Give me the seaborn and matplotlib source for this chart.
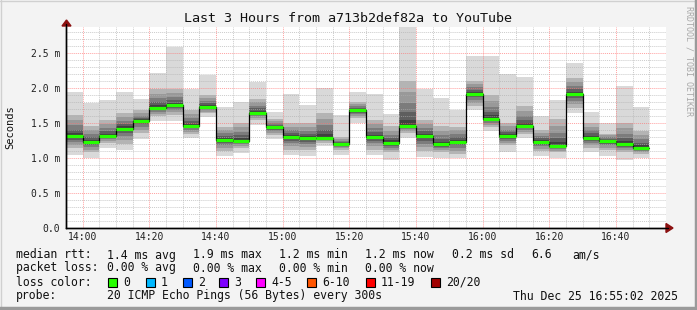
import matplotlib
matplotlib.use("Agg")
import matplotlib.pyplot as plt
import numpy as np
import pandas as pd
import seaborn as sns
from matplotlib.patches import Rectangle
from matplotlib.ticker import FixedLocator, MultipleLocator

# ---------------- data ----------------
bar_starts = ["13:55", "14:00", "14:05", "14:10", "14:15", "14:20", "14:25", "14:30", "14:35",
              "14:40", "14:45", "14:50", "14:55", "15:00", "15:05", "15:10", "15:15", "15:20",
              "15:25", "15:30", "15:35", "15:40", "15:45", "15:50", "15:55", "16:00", "16:05",
              "16:10", "16:15", "16:20", "16:25", "16:30", "16:35", "16:40", "16:45"]
smoke_min = [1.04, 1.00, 1.15, 1.11, 1.27, 1.53, 1.53, 1.28, 1.58,
             1.03, 1.07, 1.47, 1.27, 1.05, 1.03, 1.17, 1.05, 1.50,
             1.04, 0.97, 1.28, 1.02, 1.00, 1.00, 1.68, 1.38, 1.09,
             1.28, 1.03, 1.00, 1.64, 1.08, 1.03, 0.97, 1.00]
smoke_lo = [1.15, 1.08, 1.22, 1.20, 1.36, 1.60, 1.62, 1.35, 1.64,
            1.10, 1.15, 1.55, 1.33, 1.12, 1.12, 1.22, 1.12, 1.57,
            1.12, 1.08, 1.36, 1.10, 1.08, 1.06, 1.75, 1.45, 1.18,
            1.35, 1.10, 1.08, 1.72, 1.15, 1.12, 1.08, 1.06]
median_rtt = [1.31, 1.23, 1.31, 1.42, 1.53, 1.72, 1.76, 1.46, 1.73,
              1.26, 1.25, 1.65, 1.44, 1.30, 1.28, 1.29, 1.20, 1.68,
              1.30, 1.22, 1.46, 1.31, 1.20, 1.23, 1.92, 1.56, 1.31,
              1.46, 1.23, 1.17, 1.91, 1.29, 1.24, 1.20, 1.15]
smoke_hi = [1.62, 1.45, 1.55, 1.65, 1.68, 1.98, 1.98, 1.68, 1.90,
            1.45, 1.50, 1.85, 1.55, 1.50, 1.50, 1.65, 1.30, 1.80,
            1.55, 1.45, 2.10, 1.55, 1.45, 1.45, 2.10, 1.90, 1.50,
            1.75, 1.40, 1.55, 2.15, 1.50, 1.35, 1.50, 1.38]
smoke_max = [1.95, 1.78, 1.83, 1.95, 1.84, 2.21, 2.58, 1.99, 2.18,
             1.73, 1.80, 2.08, 1.66, 1.91, 1.75, 2.00, 1.61, 1.94,
             1.91, 1.63, 2.95, 1.98, 1.86, 1.68, 2.45, 2.45, 2.20,
             2.16, 1.60, 1.83, 2.36, 1.66, 1.50, 2.03, 1.73]

x_tick_labels = ["14:00", "14:20", "14:40", "15:00", "15:20", "15:40", "16:00", "16:20", "16:40"]
y_tick_values = [0.0, 0.5, 1.0, 1.5, 2.0, 2.5]
y_tick_labels = ["0.0", "0.5 m", "1.0 m", "1.5 m", "2.0 m", "2.5 m"]

rtt_stats = ["1.4 ms avg", "1.9 ms max", "1.2 ms min", "1.2 ms now", "0.2 ms sd", "6.6", "am/s"]
loss_stats = ["0.00 % avg", "0.00 % max", "0.00 % min", "0.00 % now"]
loss_labels = ["0", "1", "2", "3", "4-5", "6-10", "11-19", "20/20"]
loss_colors = ["#26ff00", "#00b8ff", "#0059ff", "#7e00ff", "#ff00ff", "#ff5500", "#ff0000", "#a10000"]

title = "Last 3 Hours from a713b2def82a to YouTube"
probe_text = "20 ICMP Echo Pings (56 Bytes) every 300s"
date_text = "Thu Dec 25 16:55:02 2025"

# ---------------- helpers ----------------
def to_min(s):
    h, m = s.split(":")
    return int(h) * 60 + int(m) - (13 * 60 + 55)

df = pd.DataFrame({"start": [to_min(s) for s in bar_starts],
                   "lo0": smoke_min, "lo1": smoke_lo, "med": median_rtt,
                   "hi1": smoke_hi, "hi0": smoke_max})
step = 5

sns.set_theme(style="white")
plt.rcParams["font.family"] = ["DejaVu Sans Mono"]

W, H = 697, 310
fig = plt.figure(figsize=(W / 100, H / 100), dpi=100)
fig.patch.set_facecolor("#f3f3f3")

L, R, T, B = 66, 666, 27, 228
ax = fig.add_axes([L / W, 1 - B / H, (R - L) / W, (B - T) / H])
ax.set_facecolor("white")
ax.set_xlim(0, 180)
ax.set_ylim(0, (B - T) / 70.0)

# smoke
ax.bar(df["start"], df["hi0"] - df["lo0"], bottom=df["lo0"], width=step, align="edge",
       color="#d9d9d9", linewidth=0, zorder=1)
layers = [(1.0, "#b4b4b4"), (0.75, "#999999"), (0.5, "#7c7c7c"), (0.3, "#5e5e5e"), (0.14, "#404040")]
for f, c in layers:
    lo = df["med"] - (df["med"] - df["lo1"]) * f
    hi = df["med"] + (df["hi1"] - df["med"]) * f
    ax.bar(df["start"], hi - lo, bottom=lo, width=step, align="edge", color=c, linewidth=0, zorder=1)

# median step line
line_df = pd.DataFrame({"x": list(df["start"]) + [df["start"].iloc[-1] + step],
                        "y": list(df["med"]) + [df["med"].iloc[-1]]})
sns.lineplot(data=line_df, x="x", y="y", drawstyle="steps-post", color="black", lw=0.9,
             estimator=None, ax=ax, zorder=4)
ax.hlines(df["med"], df["start"], df["start"] + step, color=loss_colors[0], lw=2.3, zorder=5)

# grid
ax.xaxis.set_major_locator(FixedLocator([to_min(s) for s in x_tick_labels]))
ax.xaxis.set_minor_locator(MultipleLocator(5))
ax.yaxis.set_major_locator(FixedLocator(y_tick_values))
ax.yaxis.set_minor_locator(MultipleLocator(0.1))
ax.set_xticklabels(x_tick_labels)
ax.set_yticklabels(y_tick_labels)
ax.set_axisbelow(False)
ax.grid(which="minor", color="#b0b0b0", ls=(0, (1, 1)), lw=0.7, alpha=0.65)
ax.grid(which="major", color="#ff7070", ls=(0, (1, 1)), lw=0.7, alpha=0.65)
ax.tick_params(which="both", labelsize=7, colors="black", length=2, width=0.6, pad=3,
               direction="inout", color="#888888")
ax.tick_params(axis="x", pad=2)
for lab in ax.get_xticklabels() + ax.get_yticklabels():
    lab.set_color("#202020")
ax.set_xlabel("")
ax.set_ylabel("")
for s in ["top", "right"]:
    ax.spines[s].set_visible(False)
for s in ["left", "bottom"]:
    ax.spines[s].set_color("black")
    ax.spines[s].set_linewidth(1.0)
    ax.spines[s].set_zorder(6)

# axis arrows
fig.add_artist(plt.Polygon([[(L - 4) / W, 1 - 26 / H], [(L + 5) / W, 1 - 26 / H], [(L + 0.5) / W, 1 - 20 / H]],
                           closed=True, transform=fig.transFigure, color="#8b1010"))
fig.add_artist(plt.Polygon([[(R) / W, 1 - (B - 4.5) / H], [(R) / W, 1 - (B + 4.5) / H], [(R + 7) / W, 1 - B / H]],
                           closed=True, transform=fig.transFigure, color="#8b1010"))
fig.add_artist(plt.Line2D([L / W, L / W], [1 - B / H, 1 - 24 / H], transform=fig.transFigure, color="black", lw=1))
fig.add_artist(plt.Line2D([L / W, (R + 2) / W], [1 - B / H, 1 - B / H], transform=fig.transFigure, color="black", lw=1))

# texts
def ftext(x, y, s, **kw):
    kw.setdefault("fontsize", 8.3)
    kw.setdefault("va", "center")
    kw.setdefault("color", "#111111")
    fig.text(x / W, 1 - y / H, s, **kw)

ftext(348, 19, title, fontsize=9.6, ha="center")
ftext(10, 127, "Seconds", fontsize=7.5, rotation=90, ha="center")
ftext(689, 6, "RRDTOOL / TOBI OETIKER", fontsize=6, rotation=270, ha="center", va="top", color="#a8a8a8")

ftext(16, 255, "median rtt:")
for xp, s in zip([107, 193, 279, 365, 452, 531, 572], rtt_stats):
    ftext(xp, 255, s)
ftext(16, 268, "packet loss:")
for xp, s in zip([107, 193, 279, 365], loss_stats):
    ftext(xp, 268, s)
ftext(16, 282, "loss color:")
box_x = [108, 146, 183, 219, 256, 307, 366, 431]
for bx, lab, col in zip(box_x, loss_labels, loss_colors):
    fig.add_artist(Rectangle((bx / W, 1 - 287 / H), 9 / W, 9 / H, transform=fig.transFigure,
                             facecolor=col, edgecolor="black", lw=0.8))
    ftext(bx + 15, 282, lab)
ftext(16, 296, "probe:")
ftext(107, 296, probe_text)
ftext(513, 296, date_text)

# frame
fig.add_artist(plt.Line2D([0, 1], [1 - 0.5 / H, 1 - 0.5 / H], transform=fig.transFigure, color="#d0d0d0", lw=1))
fig.add_artist(plt.Line2D([0.5 / W, 0.5 / W], [0, 1], transform=fig.transFigure, color="#d0d0d0", lw=1))
fig.add_artist(plt.Line2D([0, 1], [2 / H, 2 / H], transform=fig.transFigure, color="#9a9a9a", lw=2.5))
fig.add_artist(plt.Line2D([1 - 1.5 / W, 1 - 1.5 / W], [0, 1], transform=fig.transFigure, color="#9a9a9a", lw=2.5))

fig.savefig("out.png", dpi=100, facecolor=fig.get_facecolor())
